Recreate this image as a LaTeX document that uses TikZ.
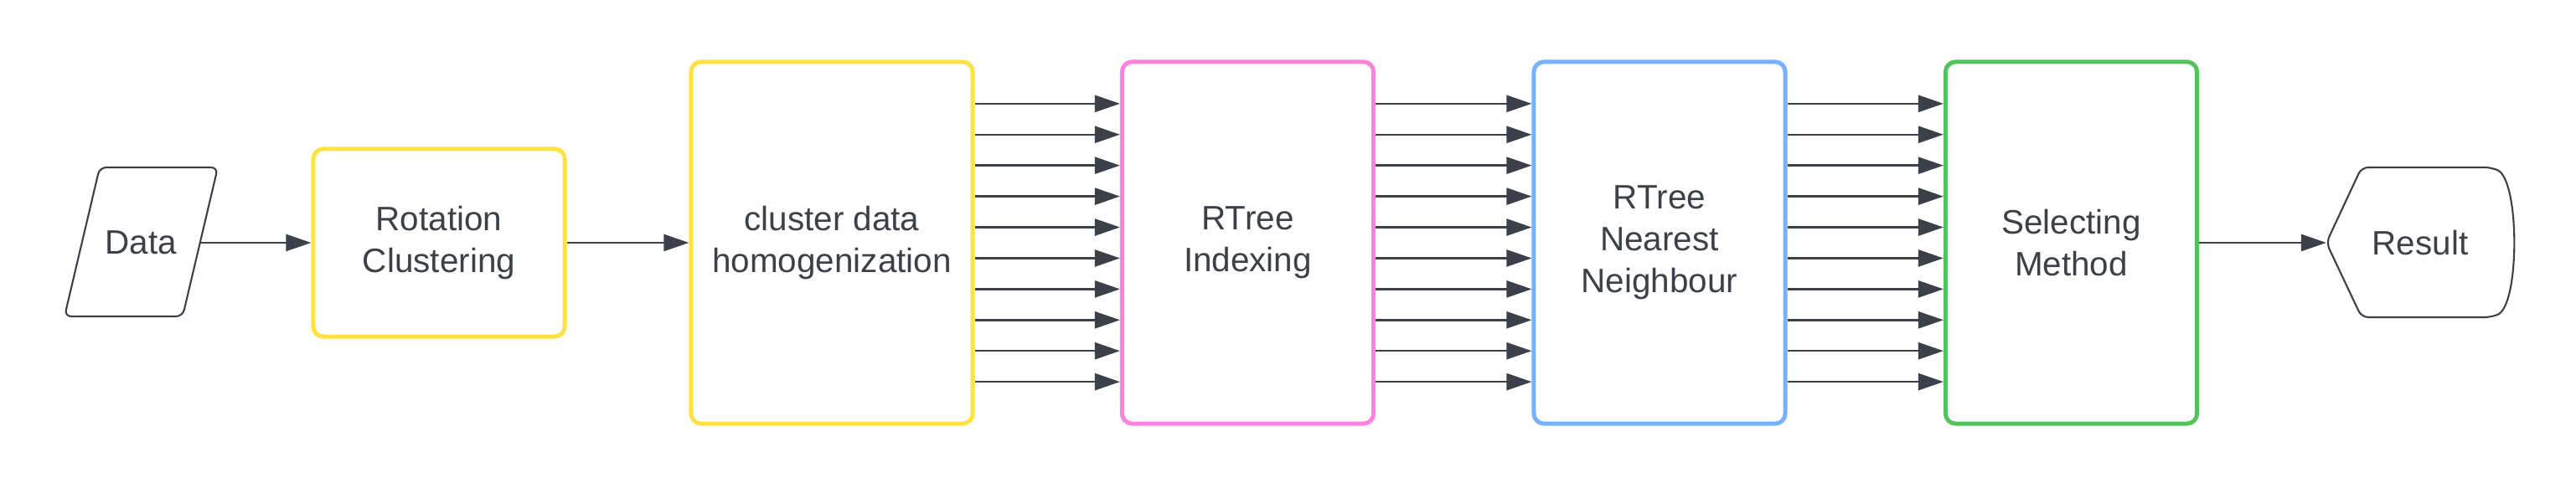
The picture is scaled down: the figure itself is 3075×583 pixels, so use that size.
\documentclass[tikz,border=0pt]{standalone}
\usepackage{fontspec}
\setmainfont{Liberation Sans}
\usetikzlibrary{arrows.meta}
\definecolor{ink}{HTML}{3A414A}
\definecolor{lyellow}{HTML}{FFE23F}
\definecolor{lpink}{HTML}{FF80DF}
\definecolor{lblue}{HTML}{72B2FF}
\definecolor{lgreen}{HTML}{50C45A}
\begin{document}
\begin{tikzpicture}[x=0.01cm,y=-0.01cm,line join=round]
  \tikzstyle{every node}=[font=\fontsize{11.5}{14.2}\selectfont,text=ink]
  \tikzstyle{stage}=[rectangle,draw,rounded corners=0.12cm,line width=1.42pt,align=center,minimum width=3cm,minimum height=4.32cm]
  \tikzstyle{term}=[inner sep=0pt,outer sep=0pt,minimum height=1.78cm]
  \tikzstyle{flow}=[ink,line width=0.7pt,-{Triangle[length=0.3cm,width=0.2cm]}]
  \useasboundingbox (0,0) rectangle (3075,583);
  \draw[ink,line width=0.6pt,rounded corners=0.08cm] (119,200) -- (260,200) -- (218,378) -- (77,378) -- cycle;
  \draw[ink,line width=0.6pt,rounded corners=0.08cm] (2777,290) -- (2819,200) -- (2974,200)
    .. controls (3008,215) and (3008,365) .. (2974,379) -- (2819,379) -- cycle;
  \node[term,minimum width=1.41cm] (D) at (168.5,290) {Data};
  \node[stage,draw=lyellow,minimum height=2.24cm] (S_1) at (524,290) {Rotation\\Clustering};
  \node[stage,draw=lyellow,minimum width=3.36cm] (S_2) at (993,290) {cluster data\\homogenization};
  \node[stage,draw=lpink] (S_3) at (1489.5,290) {RTree\\Indexing};
  \node[stage,draw=lblue] (S_4) at (1981,290) {RTree\\Nearest\\Neighbour};
  \node[stage,draw=lgreen] (S_5) at (2472.5,290) {Selecting\\Method};
  \node[term,minimum width=2.24cm] (R) at (2889,290) {Result};
  \draw [flow] (D.east) -- (S_1.west);
  \draw [flow] (S_1.east) -- (S_2.west);
  \draw [flow] (S_5.east) -- (R.west);
  \foreach \k in {-4.5,-3.5,...,4.5} {
    \draw [flow] ([yshift=\k*0.369cm]S_2.east) -- ([yshift=\k*0.369cm]S_3.west);
    \draw [flow] ([yshift=\k*0.369cm]S_3.east) -- ([yshift=\k*0.369cm]S_4.west);
    \draw [flow] ([yshift=\k*0.369cm]S_4.east) -- ([yshift=\k*0.369cm]S_5.west);
  }
\end{tikzpicture}
\end{document}
